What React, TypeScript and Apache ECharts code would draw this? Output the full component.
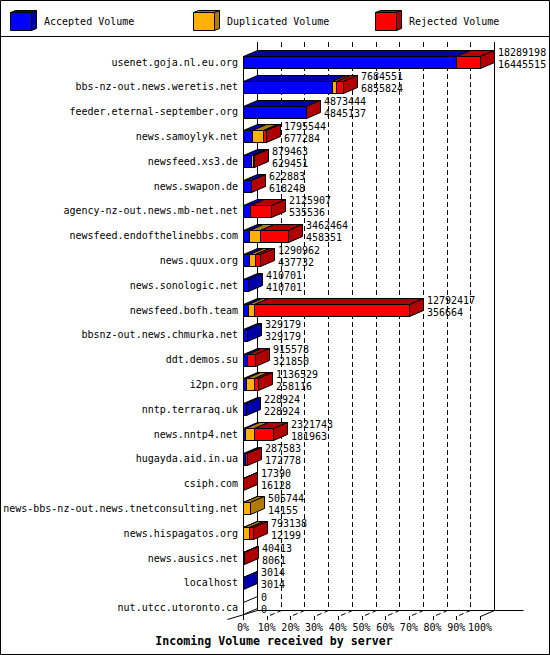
import * as echarts from "echarts";
import { useEffect, useRef } from "react";

const servers = [
  "usenet.goja.nl.eu.org",
  "bbs-nz-out.news.weretis.net",
  "feeder.eternal-september.org",
  "news.samoylyk.net",
  "newsfeed.xs3.de",
  "news.swapon.de",
  "agency-nz-out.news.mb-net.net",
  "newsfeed.endofthelinebbs.com",
  "news.quux.org",
  "news.sonologic.net",
  "newsfeed.bofh.team",
  "bbsnz-out.news.chmurka.net",
  "ddt.demos.su",
  "i2pn.org",
  "nntp.terraraq.uk",
  "news.nntp4.net",
  "hugayda.aid.in.ua",
  "csiph.com",
  "news-bbs-nz-out.news.tnetconsulting.net",
  "news.hispagatos.org",
  "news.ausics.net",
  "localhost",
  "nut.utcc.utoronto.ca",
];

const totalVolume = [
  18289198, 7684551, 4873444, 1795544, 879463, 622883, 2125907, 3462464,
  1290962, 410701, 12792417, 329179, 915578, 1136529, 228924, 2321743, 287583,
  17390, 505744, 793138, 40413, 3014, 0,
];

const acceptedVolume = [
  16445515, 6855824, 4845137, 677284, 629451, 618248, 535536, 458351, 437732,
  410701, 356664, 329179, 321850, 258116, 228924, 181963, 172778, 16128, 14155,
  12199, 8061, 3014, 0,
];

const duplicatedVolume = [
  0, 310000, 0, 850000, 120000, 0, 0, 850000, 510000, 0, 500000, 0, 0, 600000,
  0, 690000, 0, 0, 491589, 420000, 0, 0, 0,
];

const percentTicks = [0, 10, 20, 30, 40, 50, 60, 70, 80, 90, 100];
const seriesNames = ["Accepted Volume", "Duplicated Volume", "Rejected Volume"];

const FRONT = ["#0000ff", "#ffb000", "#ff0000"];
const DARK = ["#0000a8", "#b07c00", "#b00000"];
const MONO = "'DejaVu Sans Mono', monospace";
const DX = 14;
const DY = 6;
const BAR_H = 12;
const WALL_TOP = 42;
const FLOOR_BACK = 610;
const FLOOR_FRONT = 616;

const px = (v: number) => Math.round(v) + 0.5;

export default function App() {
  const chartRef = useRef<HTMLDivElement>(null);

  useEffect(() => {
    document.body.style.margin = "0";
    const chart = echarts.init(chartRef.current!, null, { renderer: "svg" });
    const maxTotal = Math.max(...totalVolume);
    const pct = (v: number) => (v / maxTotal) * 100;

    const rows = servers.map((_, i) => {
      const acc = acceptedVolume[i];
      const dup = duplicatedVolume[i];
      const rej = totalVolume[i] - acc - dup;
      return [i, pct(acc), pct(acc + dup), pct(totalVolume[i]), acc, dup, rej];
    });

    const legendX = [10, 193, 375];
    const legend: any[] = [];
    seriesNames.forEach((name, k) => {
      const x = legendX[k] + 0.5;
      legend.push(
        {
          type: "polygon",
          shape: { points: [[x, 12.5], [x + 5, 10.5], [x + 26, 10.5], [x + 21, 12.5]] },
          style: { fill: DARK[k], stroke: "#000", lineWidth: 1 },
        },
        {
          type: "polygon",
          shape: { points: [[x + 21, 12.5], [x + 26, 10.5], [x + 26, 28.5], [x + 21, 30.5]] },
          style: { fill: DARK[k], stroke: "#000", lineWidth: 1 },
        },
        {
          type: "rect",
          shape: { x, y: 12.5, width: 21, height: 18 },
          style: { fill: FRONT[k], stroke: "#000", lineWidth: 1 },
        },
        {
          type: "text",
          x: legendX[k] + 34,
          y: 21,
          style: { text: name, font: `10px ${MONO}`, fill: "#000", verticalAlign: "middle" },
        }
      );
    });

    chart.setOption({
      animation: false,
      grid: {
        left: 243,
        right: 70,
        top: 49.6,
        bottom: 35,
        containLabel: false,
        outerBoundsMode: "none",
      },
      xAxis: {
        type: "value",
        min: 0,
        max: 100,
        interval: 10,
        axisLine: { show: false },
        axisTick: { show: false },
        splitLine: { show: false },
        axisLabel: {
          formatter: "{value}%",
          fontFamily: MONO,
          fontSize: 10,
          color: "#000",
          margin: 2,
        },
      },
      yAxis: {
        type: "category",
        inverse: true,
        data: servers,
        axisLine: { show: false },
        axisTick: { show: false },
        splitLine: { show: false },
        axisLabel: {
          fontFamily: MONO,
          fontSize: 10,
          color: "#000",
          margin: 5,
        },
      },
      graphic: [
        {
          type: "rect",
          shape: { x: 0.5, y: 0.5, width: 549, height: 654 },
          style: { fill: "none", stroke: "#000", lineWidth: 1 },
          z: 100,
        },
        {
          type: "line",
          shape: { x1: 0, y1: 36.5, x2: 550, y2: 36.5 },
          style: { stroke: "#000", lineWidth: 1 },
        },
        ...legend,
        {
          type: "text",
          x: 274,
          y: 641,
          style: {
            text: "Incoming Volume received by server",
            font: `bold 11.6px ${MONO}`,
            fill: "#000",
            align: "center",
            verticalAlign: "middle",
          },
        },
      ],
      series: [
        {
          type: "custom",
          name: "frame",
          silent: true,
          clip: false,
          z: 1,
          data: percentTicks.map((p) => [p, 0]),
          encode: { x: 0, y: 1 },
          renderItem: (_params: any, api: any) => {
            const p = api.value(0);
            const x = px(api.coord([p, 0])[0]);
            const bx = x + DX;
            const children: any[] = [];
            const solid = p === 0 || p === 100;
            children.push({
              type: "polyline",
              shape: {
                points: solid
                  ? [[bx, WALL_TOP], [bx, FLOOR_BACK + 0.5]]
                  : [[bx, WALL_TOP], [bx, FLOOR_BACK + 0.5], [x, FLOOR_FRONT + 0.5]],
              },
              style: {
                stroke: "#000",
                lineWidth: 1,
                fill: "none",
                lineDash: solid ? null : [5, 3],
              },
            });
            children.push({
              type: "line",
              shape: { x1: x, y1: FLOOR_FRONT, x2: x, y2: FLOOR_FRONT + 4 },
              style: { stroke: "#000", lineWidth: 1 },
            });
            if (p === 0) {
              children.push(
                {
                  type: "line",
                  shape: { x1: x, y1: 56, x2: x, y2: FLOOR_FRONT + 0.5 },
                  style: { stroke: "#000", lineWidth: 1 },
                },
                {
                  type: "line",
                  shape: { x1: x - 16, y1: FLOOR_FRONT + 3.5, x2: bx, y2: FLOOR_BACK + 0.5 },
                  style: { stroke: "#000", lineWidth: 1 },
                }
              );
            }
            if (p === 100) {
              const x0 = px(api.coord([0, 0])[0]) + DX;
              children.push(
                {
                  type: "line",
                  shape: { x1: x, y1: FLOOR_FRONT + 0.5, x2: bx, y2: FLOOR_BACK + 0.5 },
                  style: { stroke: "#000", lineWidth: 1 },
                },
                {
                  type: "line",
                  shape: { x1: x0, y1: FLOOR_BACK + 0.5, x2: bx + 29, y2: FLOOR_BACK + 0.5 },
                  style: { stroke: "#000", lineWidth: 1 },
                }
              );
            }
            return { type: "group", children };
          },
        },
        {
          type: "custom",
          name: "volume",
          silent: true,
          clip: false,
          z: 2,
          data: rows,
          encode: { x: 3, y: 0 },
          renderItem: (_params: any, api: any) => {
            const i = api.value(0);
            const base = api.coord([0, i]);
            const yc = base[1];
            const top = px(yc - BAR_H / 2);
            const bottom = top + BAR_H;
            const xs = [
              px(base[0]),
              px(api.coord([api.value(1), i])[0]),
              px(api.coord([api.value(2), i])[0]),
              px(api.coord([api.value(3), i])[0]),
            ];
            const vols = [api.value(4), api.value(5), api.value(6)];
            const children: any[] = [];
            let last = -1;
            for (let k = 0; k < 3; k++) {
              if (vols[k] <= 0) continue;
              last = k;
              const a = xs[k];
              const b = xs[k + 1];
              children.push(
                {
                  type: "polygon",
                  shape: { points: [[a, top], [b, top], [b + DX, top - DY], [a + DX, top - DY]] },
                  style: { fill: DARK[k], stroke: "#000", lineWidth: 1 },
                },
                {
                  type: "rect",
                  shape: { x: a, y: top, width: b - a, height: BAR_H },
                  style: { fill: FRONT[k], stroke: "#000", lineWidth: 1 },
                }
              );
            }
            const r = xs[3];
            children.push({
              type: "polygon",
              shape: { points: [[r, top], [r + DX, top - DY], [r + DX, bottom - DY], [r, bottom]] },
              style: { fill: last >= 0 ? DARK[last] : "#fff", stroke: "#000", lineWidth: 1 },
            });
            const tx = r + DX + 3.5;
            children.push(
              {
                type: "text",
                x: tx,
                y: yc - 10,
                style: {
                  text: String(totalVolume[i]),
                  font: `10px ${MONO}`,
                  fill: "#000",
                  verticalAlign: "middle",
                },
              },
              {
                type: "text",
                x: tx,
                y: yc + 2,
                style: {
                  text: String(acceptedVolume[i]),
                  font: `10px ${MONO}`,
                  fill: "#000",
                  verticalAlign: "middle",
                },
              }
            );
            return { type: "group", children };
          },
        },
      ],
    });
    return () => chart.dispose();
  }, []);

  return (
    <div
      ref={chartRef}
      style={{ position: "absolute", left: 0, top: 0, width: 550, height: 655, background: "#fff" }}
    />
  );
}
